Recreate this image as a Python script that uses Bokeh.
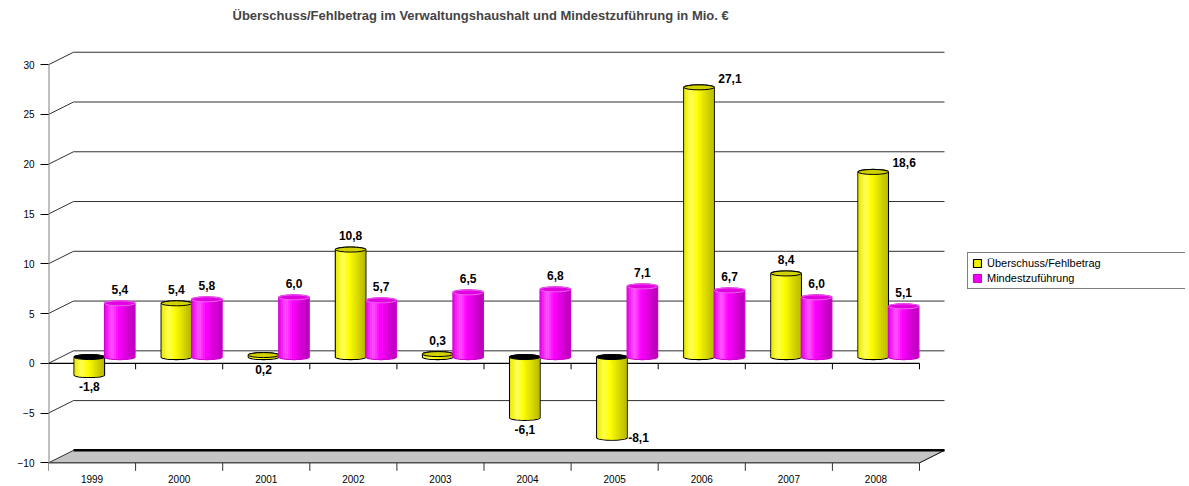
import numpy as np
from bokeh.plotting import figure
from bokeh.models import ColumnDataSource, Range1d, FixedTicker, Legend, LegendItem
from bokeh.core.properties import value
from bokeh.embed import file_html
from bokeh.resources import INLINE

# ---------------- data ----------------
years = ["1999", "2000", "2001", "2002", "2003", "2004", "2005", "2006", "2007", "2008"]
ueberschuss = [-1.8, 5.4, 0.2, 10.8, 0.3, -6.1, -8.1, 27.1, 8.4, 18.6]
mindestzufuehrung = [5.4, 5.8, 6.0, 5.7, 6.5, 6.8, 7.1, 6.7, 6.0, 5.1]
y_ticks = [-10, -5, 0, 5, 10, 15, 20, 25, 30]
series_names = ["Überschuss/Fehlbetrag", "Mindestzuführung"]
title_text = "Überschuss/Fehlbetrag im Verwaltungshaushalt und Mindestzuführung in Mio. €"

# ---------------- geometry / style ----------------
FONT = "Liberation Sans"
PX_X = 87.1      # pixels per category
PX_Y = 9.975     # pixels per value unit
DX = 25 / PX_X   # depth offset (x, data units)
DY = 12.5 / PX_Y # depth offset (y, data units)
BAR_W = 0.35
CAP_H = 5 / PX_Y     # ellipse height in data units
N_STRIPS = 16
N_ARC = 24
n = len(years)
y_min = y_ticks[0]

W, H = 1185, 484
LEFT, TOP = 48, 26
ZERO_PX = 362.55
FRAME_W = W - LEFT
FRAME_H = H - TOP
Y_BOTTOM = (ZERO_PX - H) / PX_Y
Y_TOP = (ZERO_PX - TOP) / PX_Y

p = figure(width=W, height=H, output_backend="svg", toolbar_location=None,
           x_range=Range1d(0, FRAME_W / PX_X), y_range=Range1d(Y_BOTTOM, Y_TOP),
           x_axis_location=None, y_axis_location="left",
           min_border_left=LEFT, min_border_right=0, min_border_top=TOP, min_border_bottom=0,
           title=title_text)
p.outline_line_color = None
p.grid.visible = False
p.background_fill_color = "white"
p.border_fill_color = "white"

p.title.text_font = FONT
p.title.text_font_size = "13px"
p.title.text_font_style = "bold"
p.title.align = "left"
p.title.offset = 184
p.title.standoff = 10

yax = p.yaxis[0]
yax.ticker = FixedTicker(ticks=y_ticks)
yax.axis_line_color = None
yax.major_tick_out = 8
yax.major_tick_in = 0
yax.minor_tick_out = 0
yax.minor_tick_in = 0
yax.major_tick_line_color = "black"
yax.major_label_text_font = FONT
yax.major_label_text_font_size = "10px"
yax.major_label_text_color = "black"
yax.major_label_standoff = 6

# ---------------- floor ----------------
p.patch([0, n, n + DX, DX], [y_min, y_min, y_min + DY, y_min + DY],
        fill_color="#c4c4c4", line_color=None)

# ---------------- gridlines (back wall + left wall diagonals) ----------------
gv = [v for v in y_ticks if v > y_min]
p.segment(x0=[DX] * len(gv), y0=[v + DY for v in gv], x1=[n + DX] * len(gv), y1=[v + DY for v in gv],
          line_color="#303030", line_width=1)
p.segment(x0=[0] * len(y_ticks), y0=y_ticks, x1=[DX] * len(y_ticks), y1=[v + DY for v in y_ticks],
          line_color="#303030", line_width=1)

# floor edges
p.segment(x0=[DX], y0=[y_min + DY], x1=[n + DX], y1=[y_min + DY], line_color="black", line_width=2.5)
p.segment(x0=[n], y0=[y_min], x1=[n + DX], y1=[y_min + DY], line_color="black", line_width=1)
p.segment(x0=[0], y0=[y_min], x1=[n], y1=[y_min], line_color="#505050", line_width=1.5)
bx = list(range(n + 1))
p.segment(x0=bx, y0=[y_min] * len(bx), x1=bx, y1=[y_min - 8 / PX_Y] * len(bx),
          line_color="#303030", line_width=1)

# y axis line (front)
p.segment(x0=[0], y0=[y_min], x1=[0], y1=[y_ticks[-1]], line_color="#808080", line_width=2)

# zero line (front) with category ticks
p.segment(x0=[0], y0=[0], x1=[n], y1=[0], line_color="black", line_width=1.2)
zx = list(range(1, n + 1))
p.segment(x0=zx, y0=[0] * len(zx), x1=zx, y1=[-6 / PX_Y] * len(zx), line_color="black", line_width=1)

# year labels
p.text(x=[i + 0.5 for i in range(n)], y=[y_min] * n, text=years, y_offset=16,
       text_font=value(FONT), text_font_size="10px", text_color="black",
       text_align="center", text_baseline="middle")


# ---------------- cylinders ----------------
def shade(rgb, t):
    if t < 0.25:
        b = 0.9 + 0.1 * (t / 0.25)
        hl = 0.35 * (t / 0.25)
    elif t < 0.45:
        b = 1.0
        hl = 0.35 * (1 - (t - 0.25) / 0.2)
    else:
        b = 1.0 - 0.3 * (t - 0.45) / 0.55
        hl = 0.0
    c = [ch * b for ch in rgb]
    c = [min(255, int(round(ch + (255 - ch) * hl))) for ch in c]
    return "#%02x%02x%02x" % tuple(c)


def lower_arc(c, yb, x):
    r = (x - c) / (BAR_W / 2)
    return yb - CAP_H / 2 * np.sqrt(max(0.0, 1 - r * r))


styles = [
    dict(rgb=(255, 255, 0), cap="#d2d200", neg_cap="#000000", cap_line="black",
         sil_fill="#f2f200", sil_line="black"),
    dict(rgb=(255, 0, 255), cap="#e000e0", neg_cap="#000000", cap_line="#f060f0",
         sil_fill="#f000f0", sil_line="#d000d0"),
]

legend_renderers = []
label_c = dict(x=[], y=[], text=[], yo=[])
label_r = dict(x=[], y=[], text=[], yo=[], xo=[])
theta_low = np.linspace(np.pi, 2 * np.pi, N_ARC)
theta_up = np.linspace(0, np.pi, N_ARC)
EPS = 0.5 / PX_X

for s, vals in enumerate([ueberschuss, mindestzufuehrung]):
    st = styles[s]
    centers = [i + 0.5 + (s - 0.5) * BAR_W + DX / 2 for i in range(n)]
    tops = [max(v, 0) + DY / 2 for v in vals]
    bots = [min(v, 0) + DY / 2 for v in vals]

    # silhouette (outline + legend swatch)
    sx, sy = [], []
    for c, t_, b_ in zip(centers, tops, bots):
        xs = [c - BAR_W / 2] + list(c + BAR_W / 2 * np.cos(theta_low)) + [c + BAR_W / 2] \
             + list(c + BAR_W / 2 * np.cos(theta_up))
        ys = [t_] + list(b_ + CAP_H / 2 * np.sin(theta_low)) + [t_] \
             + list(t_ + CAP_H / 2 * np.sin(theta_up))
        sx.append(xs)
        sy.append(ys)
    sil = p.patches(xs=sx, ys=sy, fill_color=st["sil_fill"], line_color=st["sil_line"], line_width=1.2)
    legend_renderers.append(sil)

    # shaded body strips (bottom follows the ellipse)
    px, py, pc = [], [], []
    for c, t_, b_ in zip(centers, tops, bots):
        for k in range(N_STRIPS):
            xl = c - BAR_W / 2 + k * BAR_W / N_STRIPS
            xr = xl + BAR_W / N_STRIPS
            xl_ = max(xl, c - BAR_W / 2 + EPS)
            xr_ = min(xr + EPS * 0.4, c + BAR_W / 2 - EPS)
            px.append([xl_, xr_, xr_, xl_])
            py.append([t_, t_, lower_arc(c, b_, xr_) + 0.5 / PX_Y, lower_arc(c, b_, xl_) + 0.5 / PX_Y])
            pc.append(shade(st["rgb"], (k + 0.5) / N_STRIPS))
    p.patches(xs="xs", ys="ys", fill_color="color", line_color=None,
              source=ColumnDataSource(dict(xs=px, ys=py, color=pc)))

    # top ellipse
    cap_cols = [st["cap"] if v >= 0 else st["neg_cap"] for v in vals]
    p.ellipse(x=centers, y=tops, width=BAR_W, height=CAP_H,
              fill_color=cap_cols, line_color=st["cap_line"], line_width=1)

    # data labels
    for c, v, t_, b_ in zip(centers, vals, tops, bots):
        txt = f"{v:.1f}".replace(".", ",")
        if v > 15:
            label_r["x"].append(c + BAR_W / 2); label_r["y"].append(t_)
            label_r["text"].append(txt); label_r["yo"].append(-9); label_r["xo"].append(4)
        elif v < -7:
            label_r["x"].append(c + BAR_W / 2); label_r["y"].append(b_)
            label_r["text"].append(txt); label_r["yo"].append(0); label_r["xo"].append(1)
        elif v > 0.25:
            label_c["x"].append(c); label_c["y"].append(t_)
            label_c["text"].append(txt); label_c["yo"].append(-14)
        else:
            label_c["x"].append(c); label_c["y"].append(b_)
            label_c["text"].append(txt); label_c["yo"].append(12)

p.text(x="x", y="y", text="text", y_offset="yo", source=ColumnDataSource(label_c),
       text_font=value(FONT), text_font_size="12px", text_font_style="bold",
       text_color="black", text_align="center", text_baseline="middle")
p.text(x="x", y="y", text="text", y_offset="yo", x_offset="xo", source=ColumnDataSource(label_r),
       text_font=value(FONT), text_font_size="12px", text_font_style="bold",
       text_color="black", text_align="left", text_baseline="middle")

legend = Legend(items=[LegendItem(label=series_names[0], renderers=[legend_renderers[0]]),
                       LegendItem(label=series_names[1], renderers=[legend_renderers[1]])],
                location=(967 - LEFT, H - 289), border_line_color="black", border_line_width=1,
                background_fill_color="white", background_fill_alpha=1.0,
                label_text_font=FONT, label_text_font_size="11px", label_text_color="black",
                glyph_width=10, glyph_height=10, label_height=12, label_width=195,
                padding=4, spacing=3, margin=0, label_standoff=5)
p.add_layout(legend)

open("out.html", "w").write(file_html(p, INLINE))
